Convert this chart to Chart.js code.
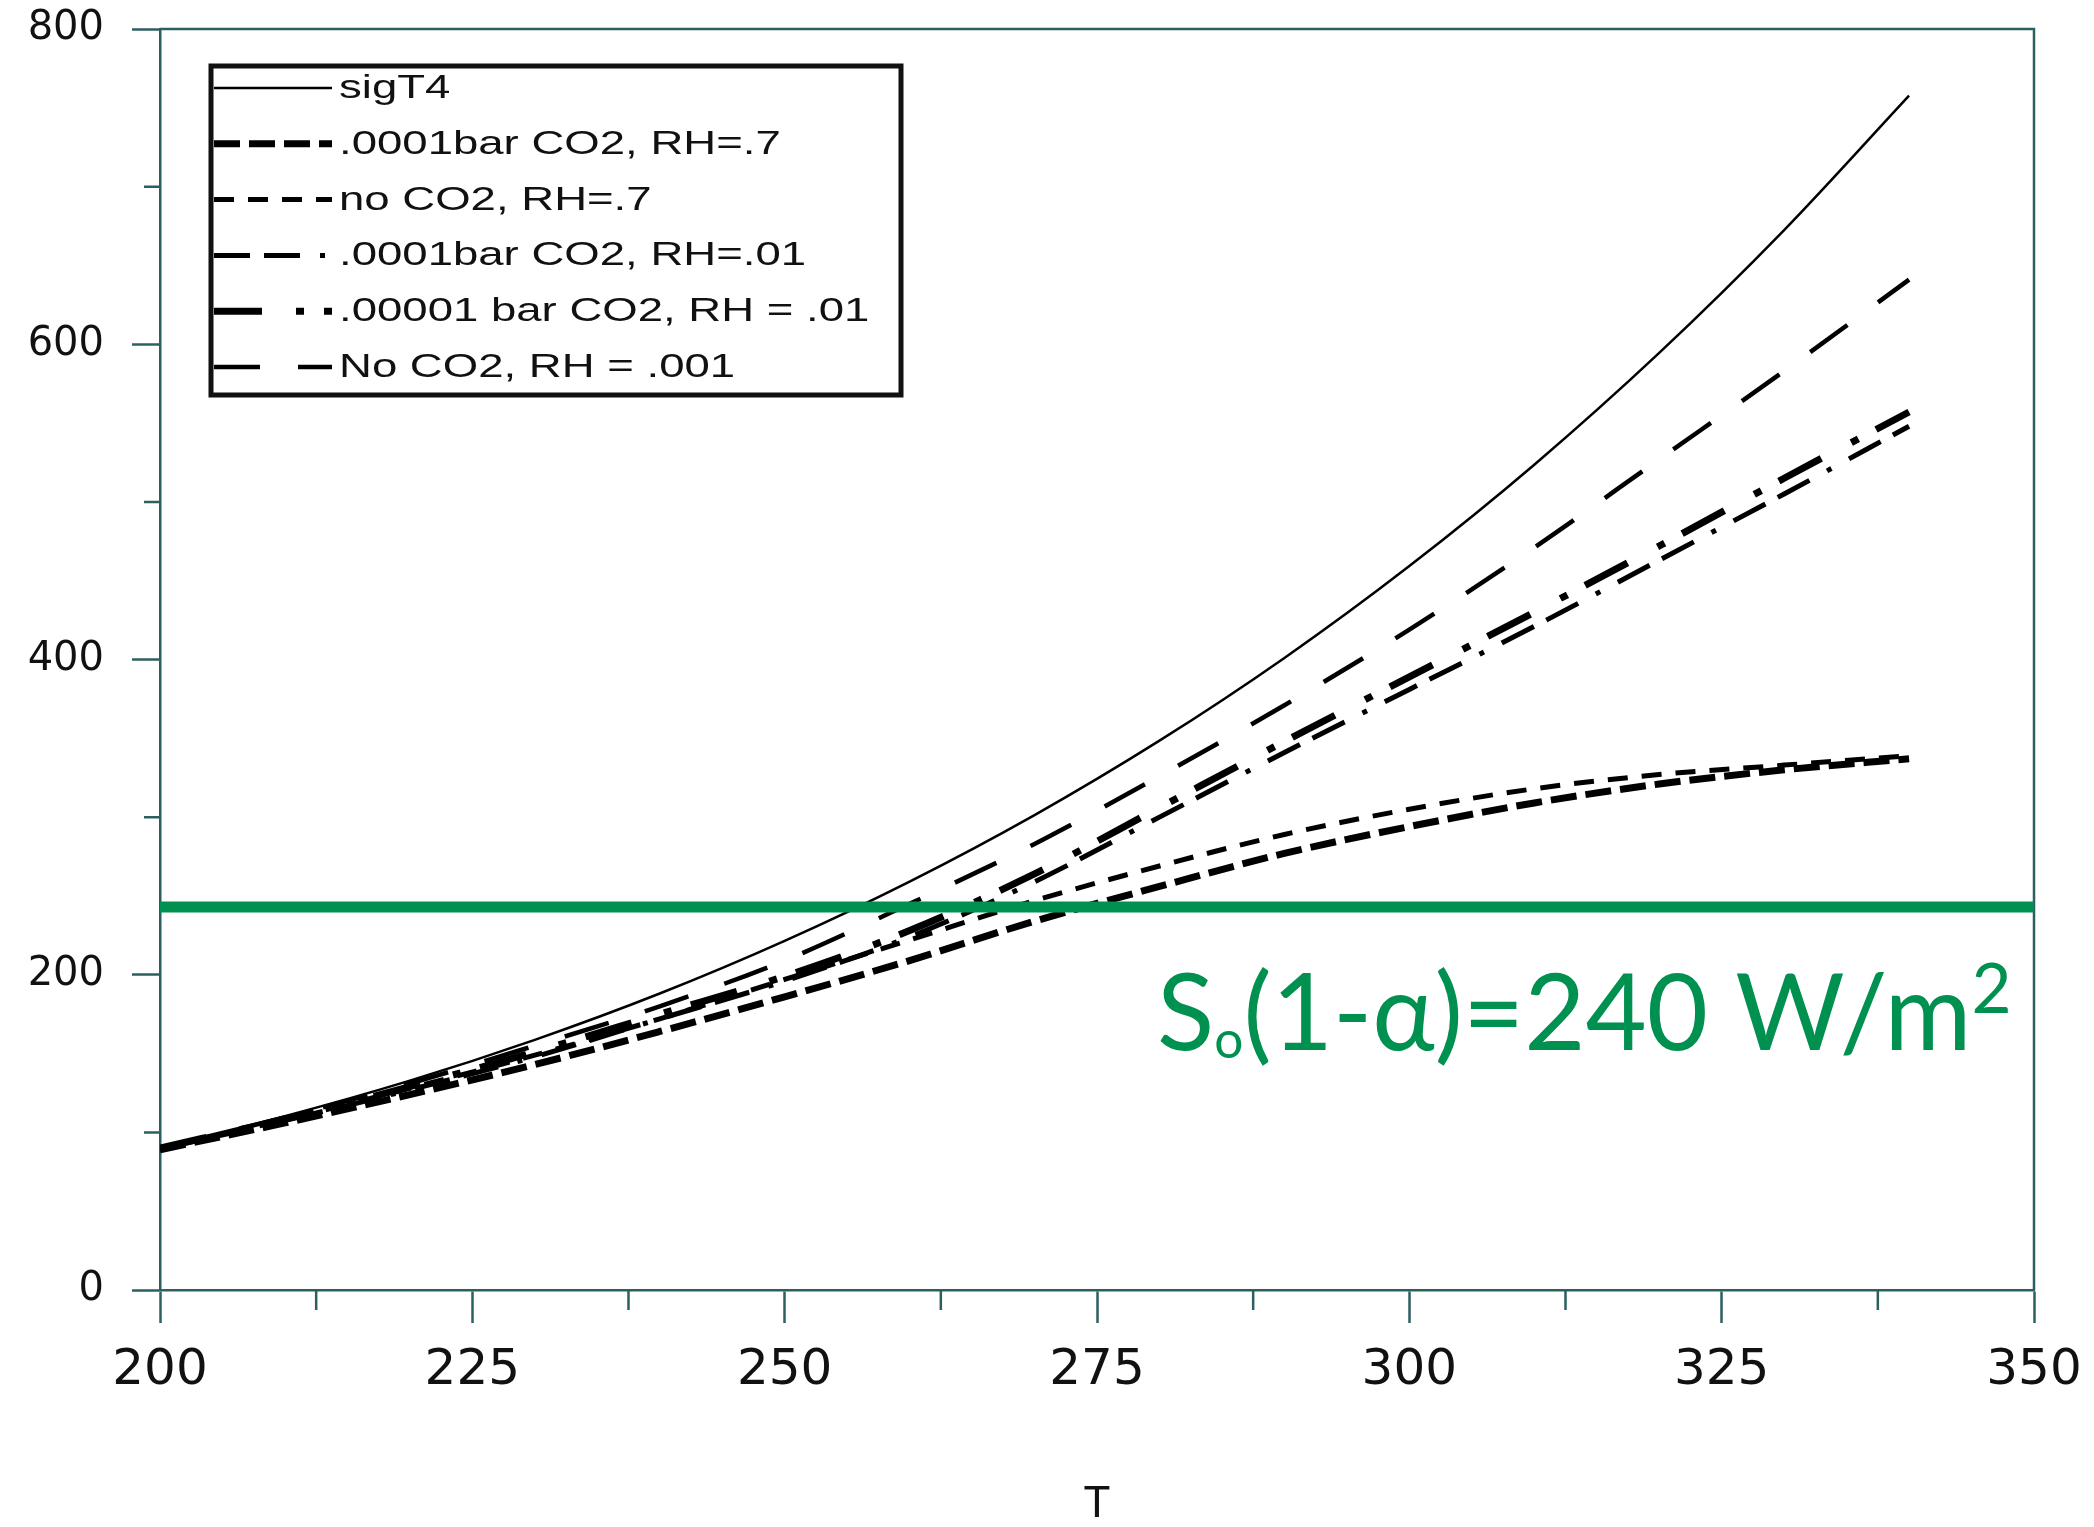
<!DOCTYPE html>
<html>
<head>
<meta charset="utf-8">
<script src="https://cdn.jsdelivr.net/npm/chart.js@4.4.1/dist/chart.umd.min.js"></script>
<style>
  html, body { margin: 0; padding: 0; background: #fff; overflow: hidden; }
  canvas { display: block; }
</style>
</head>
<body>
<canvas id="olrChart" width="2094" height="1527"></canvas>
<script>
// temperature (K)
var temps = [200, 210, 220, 230, 240, 250, 260, 270, 280, 290, 300, 310, 320, 330, 340];

// outgoing longwave radiation (W/m2)
var sigT4 = [90.7, 110.3, 132.8, 158.7, 188.1, 221.5, 259.1, 301.3, 348.5, 401.0, 459.3, 523.6, 594.5, 672.4, 757.7];
var co2RH7 = [89, 106, 124, 143, 164, 186, 209, 234, 256, 277, 294, 309, 321, 330, 337];
var noCo2RH7 = [90, 108, 128, 149, 172, 197, 222, 247, 269, 289, 305, 318, 327, 333, 339];
var co2RH01 = [89.5, 107.5, 127, 148, 172, 196, 224, 259, 300, 341, 381, 421, 463, 505, 548];
var lowCo2RH01 = [90, 108.5, 129, 151, 175, 199, 228, 264, 306, 348, 389, 430, 472, 515, 557];
var noCo2RH001 = [90, 109.5, 131, 155, 180, 209, 245, 283, 326, 371, 419, 471, 527, 583, 641];

// absorbed solar line
var solarT = [200, 350];
var solarVal = [243, 243];

var xTicks = { min: 200, max: 350, step: 25 };
var yTicks = { min: 0, max: 800, step: 200 };

var frameColor = "#2c5f60";
var green = "#00904f";

function pts(xs, ys) {
  return xs.map(function (t, i) {
    return { x: t, y: ys[i] };
  });
}

function series(label, ys, dash, width) {
  return {
    label: label,
    data: pts(temps, ys),
    borderColor: "#000",
    borderWidth: width,
    borderDash: dash,
    pointRadius: 0,
    fill: false,
    cubicInterpolationMode: "monotone"
  };
}

//frame + minor ticks
var frame = {
  id: "frame",
  beforeDatasetsDraw: function (chart) {
    var ctx = chart.ctx;
    var a = chart.chartArea;
    var x = chart.scales.x;
    var y = chart.scales.y;
    ctx.save();
    ctx.strokeStyle = frameColor;
    ctx.lineWidth = 2.5;
    ctx.beginPath();
    ctx.moveTo(a.left, a.top);
    ctx.lineTo(a.right, a.top);
    ctx.lineTo(a.right, a.bottom);
    ctx.stroke();
    // minor ticks half way between labelled ones
    ctx.beginPath();
    for (var i = 0; i < x.ticks.length - 1; i++) {
      var px = x.getPixelForValue((x.ticks[i].value + x.ticks[i + 1].value) / 2);
      ctx.moveTo(px, a.bottom);
      ctx.lineTo(px, a.bottom + 20);
    }
    for (var j = 0; j < y.ticks.length - 1; j++) {
      var py = y.getPixelForValue((y.ticks[j].value + y.ticks[j + 1].value) / 2);
      ctx.moveTo(a.left, py);
      ctx.lineTo(a.left - 16, py);
    }
    ctx.stroke();
    ctx.restore();
  }
};

//legend box in the upper left
var legendBox = {
  id: "legendBox",
  afterDatasetsDraw: function (chart) {
    var ctx = chart.ctx;
    var a = chart.chartArea;
    var left = a.left + 51;
    var top = a.top + 37;
    var w = 690;
    var h = 329;
    ctx.save();
    ctx.fillStyle = "#fff";
    ctx.fillRect(left, top, w, h);
    ctx.lineWidth = 5;
    ctx.strokeStyle = "#111";
    ctx.strokeRect(left, top, w, h);
    var items = chart.data.datasets.filter(function (d) {
      return d.label;
    });
    items.forEach(function (d, i) {
      var yy = top + 22 + i * 55.8;
      ctx.setLineDash(d.borderDash || []);
      ctx.lineWidth = d.borderWidth;
      ctx.strokeStyle = d.borderColor;
      ctx.beginPath();
      ctx.moveTo(left + 3, yy);
      ctx.lineTo(left + 121, yy);
      ctx.stroke();
      ctx.setLineDash([]);
      ctx.save();
      ctx.translate(left + 128, yy + 1);
      ctx.scale(1.38, 1);
      ctx.font = '33px "Liberation Sans"';
      ctx.fillStyle = "#111";
      ctx.textBaseline = "middle";
      ctx.fillText(d.label, 0, 0);
      ctx.restore();
    });
    ctx.restore();
  }
};

//green label under the solar line
var solarLabel = {
  id: "solarLabel",
  afterDatasetsDraw: function (chart) {
    var ctx = chart.ctx;
    var x = chart.scales.x;
    var y = chart.scales.y;
    var left = x.getPixelForValue(279.8);
    var right = x.getPixelForValue(348.2);
    var base = y.getPixelForValue(152);
    var parts = [
      { t: "S", f: 107, dy: 0 },
      { t: "o", f: 52, dy: 8 },
      { t: "(1-\u03b1)=240 W/m", f: 107, dy: 0 },
      { t: "2", f: 70, dy: -37 }
    ];
    ctx.save();
    var total = 0;
    parts.forEach(function (p) {
      ctx.font = p.f + "px Lato";
      p.w = ctx.measureText(p.t).width;
      total += p.w;
    });
    ctx.translate(left, base);
    ctx.scale((right - left) / total, 1);
    ctx.fillStyle = green;
    ctx.textBaseline = "alphabetic";
    var cx = 0;
    parts.forEach(function (p) {
      ctx.font = p.f + "px Lato";
      ctx.fillText(p.t, cx, p.dy);
      cx += p.w;
    });
    ctx.restore();
  }
};

var solarLine = {
  label: "",
  data: pts(solarT, solarVal),
  borderColor: green,
  borderWidth: 11,
  pointRadius: 0,
  fill: false,
  order: -1
};

var ctx = document.getElementById("olrChart").getContext("2d");
var olrChart = new Chart(ctx, {
  type: "line",
  data: {
    datasets: [
      series("sigT4", sigT4, [], 2.5),
      series(".0001bar CO2, RH=.7", co2RH7, [26, 9], 7),
      series("no CO2, RH=.7", noCo2RH7, [20, 14], 5),
      series(".0001bar CO2, RH=.01", co2RH01, [36, 14, 36, 20, 5, 20], 5),
      series(".00001 bar CO2, RH = .01", lowCo2RH01, [48, 34, 8, 20], 7),
      series("No CO2, RH = .001", noCo2RH001, [46, 38], 4.5),
      solarLine
    ]
  },
  options: {
    responsive: false,
    animation: false,
    devicePixelRatio: 1,
    layout: {
      padding: { left: 0, right: 60, top: 29, bottom: 0 }
    },
    plugins: {
      legend: { display: false },
      tooltip: { enabled: false }
    },
    scales: {
      x: {
        type: "linear",
        min: xTicks.min,
        max: xTicks.max,
        ticks: {
          stepSize: xTicks.step,
          color: "#111",
          font: { family: "DejaVu Sans", size: 50 },
          padding: 18,
          maxRotation: 0,
          autoSkip: false
        },
        grid: {
          drawOnChartArea: false,
          tickLength: 33,
          tickColor: frameColor,
          tickWidth: 2.5
        },
        border: { color: frameColor, width: 2.5 },
        title: {
          display: true,
          text: "T",
          color: "#111",
          font: { family: "Liberation Sans", size: 44, lineHeight: 1 },
          padding: 0
        },
        afterFit: function (s) {
          s.height = 237;
          s.paddingLeft = 0;
          s.paddingRight = 0;
        }
      },
      y: {
        type: "linear",
        min: yTicks.min,
        max: yTicks.max,
        ticks: {
          stepSize: yTicks.step,
          color: "#111",
          font: { family: "DejaVu Sans", size: 40 },
          padding: 28
        },
        grid: {
          drawOnChartArea: false,
          tickLength: 28,
          tickColor: frameColor,
          tickWidth: 2.5
        },
        border: { color: frameColor, width: 2.5 },
        afterFit: function (s) {
          s.width = 160;
          s.paddingTop = 0;
          s.paddingBottom = 0;
        }
      }
    }
  },
  plugins: [frame, legendBox, solarLabel]
});
</script>
</body>
</html>
